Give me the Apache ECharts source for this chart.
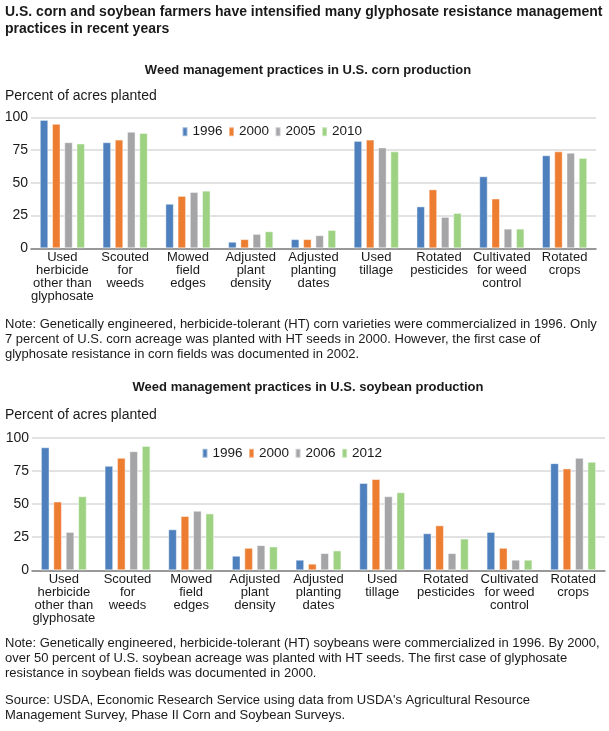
<!DOCTYPE html>
<html>
<head>
<meta charset="utf-8">
<script src="https://cdn.jsdelivr.net/npm/echarts@6/dist/echarts.min.js"></script>
<style>
html,body{margin:0;padding:0;background:#fff;}
#c{width:609px;height:731px;}
</style>
</head>
<body>
<div id="c"></div>
<script>
var categories = [
  "Used\nherbicide\nother than\nglyphosate",
  "Scouted\nfor\nweeds",
  "Mowed\nfield\nedges",
  "Adjusted\nplant\ndensity",
  "Adjusted\nplanting\ndates",
  "Used\ntillage",
  "Rotated\npesticides",
  "Cultivated\nfor weed\ncontrol",
  "Rotated\ncrops"
];
var yTicks = [0, 25, 50, 75, 100];

var cornYears = ["1996", "2000", "2005", "2010"];
var corn1996 = [98, 81, 34, 5, 7, 82, 32, 55, 71];
var corn2000 = [95, 83, 40, 7, 7, 83, 45, 38, 74];
var corn2005 = [81, 89, 43, 11, 10, 77, 24, 15, 73];
var corn2010 = [80, 88, 44, 13, 14, 74, 27, 15, 69];

var soyYears = ["1996", "2000", "2006", "2012"];
var soy1996 = [93, 79, 31, 11, 8, 66, 28, 29, 81];
var soy2000 = [52, 85, 41, 17, 5, 69, 34, 17, 77];
var soy2006 = [29, 90, 45, 19, 13, 56, 13, 8, 85];
var soy2012 = [56, 94, 43, 18, 15, 59, 24, 8, 82];

var colors = ["#4e80bd", "#ed7d31", "#a5a5a8", "#9dd283"];
var FONT = "'Liberation Sans', Arial, Helvetica, sans-serif";
var TXT = "#1a1a1a";

function xAx(gi) {
  return {
    type: "category", gridIndex: gi, data: categories,
    axisTick: { show: false },
    axisLine: { lineStyle: { color: "#808080", width: 1.5 } },
    axisLabel: { interval: 0, fontSize: 13, lineHeight: 13, margin: 3, color: TXT, fontFamily: FONT }
  };
}
function yAx(gi) {
  return {
    type: "value", gridIndex: gi, min: yTicks[0], max: yTicks[yTicks.length - 1],
    interval: yTicks[1] - yTicks[0],
    axisLine: { show: false }, axisTick: { show: false },
    axisLabel: { fontSize: 14, margin: 3, color: TXT, fontFamily: FONT },
    splitLine: { lineStyle: { color: "#d9d9d9", width: 1.5 } }
  };
}
function bar(name, data, gi, ci) {
  return {
    type: "bar", name: name, data: data, xAxisIndex: gi, yAxisIndex: gi,
    barCategoryGap: "28%", barGap: "44%",
    itemStyle: { color: colors[ci], borderColor: "rgba(255,255,255,0.45)", borderWidth: 1 },
    emphasis: { disabled: true }
  };
}
function legend(years, left, top) {
  return {
    data: years, left: left, top: top, padding: 0, itemWidth: 5, itemHeight: 9, itemGap: 5.5,
    icon: "rect", selectedMode: false,
    textStyle: { fontSize: 13.5, color: TXT, fontFamily: FONT }
  };
}
function txt(text, left, top, size, lh, bold, align) {
  return {
    text: text, left: left, top: top, padding: 0, textAlign: align || "left",
    textStyle: { fontSize: size, lineHeight: lh, fontWeight: bold ? "bold" : "normal", color: TXT, fontFamily: FONT }
  };
}

var chart = echarts.init(document.getElementById("c"), null, { renderer: "canvas" });
chart.setOption({
  animation: false,
  title: [
    txt("U.S. corn and soybean farmers have intensified many glyphosate resistance management\npractices in recent years", 5, 4, 14, 16.5, true),
    txt("Weed management practices in U.S. corn production", 308, 63, 13, 14, true, "center"),
    txt("Percent of acres planted", 5, 89.5, 14, 14, false),
    txt("Note: Genetically engineered, herbicide-tolerant (HT) corn varieties were commercialized in 1996. Only\n7 percent of U.S. corn acreage was planted with HT seeds in 2000. However, the first case of\nglyphosate resistance in corn fields was documented in 2002.", 5, 316.5, 13, 15, false),
    txt("Weed management practices in U.S. soybean production", 308, 380, 13, 14, true, "center"),
    txt("Percent of acres planted", 5, 408, 14, 14, false),
    txt("Note: Genetically engineered, herbicide-tolerant (HT) soybeans were commercialized in 1996. By 2000,\nover 50 percent of U.S. soybean acreage was planted with HT seeds. The first case of glyphosate\nresistance in soybean fields was documented in 2000.", 5, 636.5, 13, 14.75, false),
    txt("Source: USDA, Economic Research Service using data from USDA's Agricultural Resource\nManagement Survey, Phase II Corn and Soybean Surveys.", 5, 693.5, 13, 14.5, false)
  ],
  legend: [legend(cornYears, 181.5, 124.7), legend(soyYears, 201.5, 446.3)],
  grid: [
    { left: 31, top: 117.3, width: 565, height: 131 },
    { left: 32, top: 438, width: 573, height: 132.3 }
  ],
  xAxis: [xAx(0), xAx(1)],
  yAxis: [yAx(0), yAx(1)],
  series: [
    bar(cornYears[0], corn1996, 0, 0),
    bar(cornYears[1], corn2000, 0, 1),
    bar(cornYears[2], corn2005, 0, 2),
    bar(cornYears[3], corn2010, 0, 3),
    bar(soyYears[0], soy1996, 1, 0),
    bar(soyYears[1], soy2000, 1, 1),
    bar(soyYears[2], soy2006, 1, 2),
    bar(soyYears[3], soy2012, 1, 3)
  ]
});
</script>
</body>
</html>
